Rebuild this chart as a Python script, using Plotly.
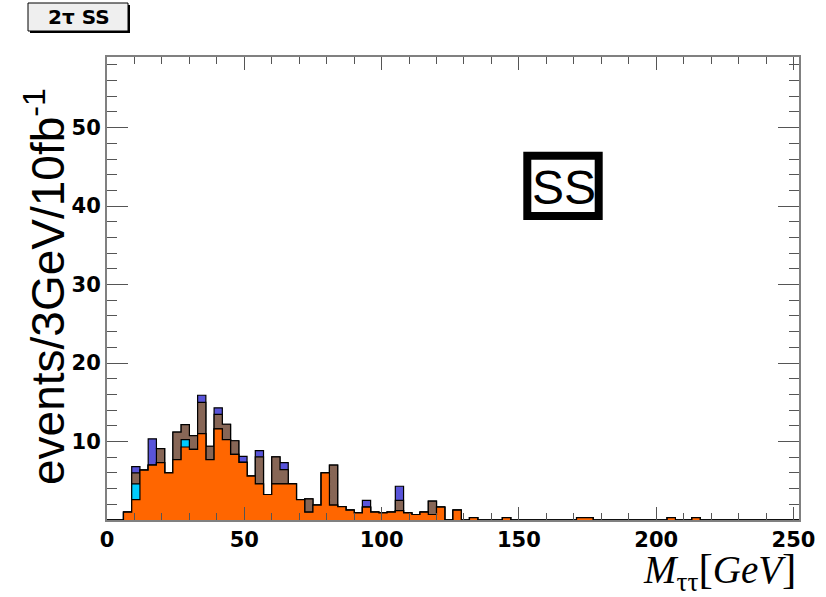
import plotly.graph_objects as go
import numpy as np

# ---------------- data (3 GeV bins from 0 to 252 GeV) ----------------
bin_width = 3
n_bins = 84
edges = [i * bin_width for i in range(n_bins + 1)]

# stacked components, bottom to top
orange = [0, 0, 1.0, 2.6, 6.35, 7.0, 7.3, 6.0, 7.7, 9.3,
          9.0, 11.0, 7.7, 11.6, 10.25, 8.35, 7.35, 5.6, 4.6, 3.25,
          4.6, 4.6, 4.6, 2.6, 1.0, 1.9, 6.0, 1.9, 1.7, 1.25,
          0.9, 1.65, 1.0, 0.9, 1.0, 1.2, 0.9, 0.7, 1.0, 0.7,
          1.65, 0, 1.25, 0, 0.3, 0, 0, 0, 0.3, 0,
          0, 0, 0, 0, 0, 0, 0, 0.3, 0.3, 0,
          0, 0, 0, 0, 0, 0, 0, 0, 0.3, 0,
          0, 0.3, 0, 0, 0, 0, 0, 0, 0, 0,
          0, 0, 0, 0]
cyan_vals = {3: 2.0, 9: 0.95}
brown_vals = {3: 1.4, 6: 1.8, 8: 3.5, 9: 1.9, 10: 1.75, 11: 4.0, 12: 1.7,
              13: 1.85, 14: 1.95, 15: 1.75, 18: 3.45, 20: 3.45, 21: 1.83,
              24: 1.7, 27: 5.1, 35: 1.3, 39: 1.7}
blue_vals = {3: 0.8, 5: 3.35, 11: 0.9, 13: 0.85, 16: 0.75, 18: 0.8,
             21: 0.87, 31: 0.85, 35: 1.8}

cyan = [cyan_vals.get(i, 0) for i in range(n_bins)]
brown = [brown_vals.get(i, 0) for i in range(n_bins)]
blue = [blue_vals.get(i, 0) for i in range(n_bins)]

colors = {"orange": "#FF6600", "cyan": "#00CCFF", "brown": "#876656", "blue": "#5954D9"}

# cumulative stacks (ROOT THStack style: draw the biggest first)
c1 = np.array(orange)
c2 = c1 + np.array(cyan)
c3 = c2 + np.array(brown)
c4 = c3 + np.array(blue)

fig = go.Figure()
for vals, col in [(c4, colors["blue"]), (c3, colors["brown"]),
                  (c2, colors["cyan"]), (c1, colors["orange"])]:
    y = list(vals) + [vals[-1]]
    fig.add_trace(go.Scatter(
        x=edges, y=y, mode="lines", line=dict(shape="hv", color="black", width=1.2),
        fill="tozeroy", fillcolor=col, hoverinfo="skip", showlegend=False))

# ---------------- layout ----------------
W, H = 826, 597
L, R, T, B = 107, 27, 57, 77
pw, ph = W - L - R, H - T - B


def px(x):
    return (x - L) / pw


def py(y):
    return (H - B - y) / ph


tick_font = dict(family="DejaVu Sans", size=21, color="black", weight="bold")

fig.update_layout(
    width=W, height=H,
    margin=dict(l=L, r=R, t=T, b=B),
    paper_bgcolor="white", plot_bgcolor="white",
    showlegend=False,
    xaxis=dict(range=[0, 252], showgrid=False, zeroline=False,
               showline=True, linecolor="#808080", linewidth=2, mirror="allticks",
               ticks="inside", ticklen=13, tickcolor="#555555", tickwidth=1,
               tickmode="linear", tick0=0, dtick=50,
               minor=dict(ticks="inside", ticklen=7, dtick=10, tick0=0,
                          tickcolor="#555555", showgrid=False),
               tickfont=tick_font),
    yaxis=dict(range=[0, 59], showgrid=False, zeroline=False,
               showline=True, linecolor="#808080", linewidth=2, mirror="allticks",
               ticks="inside", ticklen=21, tickcolor="#555555", tickwidth=1,
               tickmode="linear", tick0=0, dtick=10,
               minor=dict(ticks="inside", ticklen=10, dtick=2, tick0=0,
                          tickcolor="#555555", showgrid=False),
               labelalias={0: " "},
               tickfont=tick_font),
)

shapes = []
# "2τ SS" label box with shadow
shapes.append(dict(type="rect", xref="paper", yref="paper",
                   x0=px(30), x1=px(130), y0=py(5), y1=py(33),
                   fillcolor="black", line=dict(width=0), layer="above"))
shapes.append(dict(type="rect", xref="paper", yref="paper",
                   x0=px(28), x1=px(128), y0=py(3), y1=py(31),
                   fillcolor="#efefef", line=dict(color="black", width=1), layer="above"))
# "SS" frame
shapes.append(dict(type="rect", xref="paper", yref="paper",
                   x0=px(527.3), x1=px(598.7), y0=py(155.7), y1=py(216),
                   fillcolor="white", line=dict(color="black", width=8), layer="above"))
fig.update_layout(shapes=shapes)

annotations = [
    dict(text="<b>2τ SS</b>", x=px(79), y=py(17), xref="paper", yref="paper",
         xanchor="center", yanchor="middle", showarrow=False,
         font=dict(family="DejaVu Sans", size=20, color="black")),
    dict(text="SS", x=px(563.5), y=py(187), xref="paper", yref="paper",
         xanchor="center", yanchor="middle", showarrow=False,
         font=dict(family="Liberation Sans, Arial", size=48, color="black")),
    dict(text="events/3GeV/10fb<sup>-1</sup>", x=px(45), y=py(287),
         xref="paper", yref="paper", xanchor="center", yanchor="middle",
         textangle=-90, showarrow=False,
         font=dict(family="Liberation Sans, Arial", size=46, color="black")),
    dict(text="<i>M</i><sub>ττ</sub><span style='font-size:43px'>[</span><i>GeV</i><span style='font-size:43px'>]</span>",
         x=px(798), y=py(571), xref="paper", yref="paper",
         xanchor="right", yanchor="middle", showarrow=False,
         font=dict(family="Liberation Serif, Times New Roman", size=39, color="black")),
]
fig.update_layout(annotations=annotations)

fig.write_html("out.html")
